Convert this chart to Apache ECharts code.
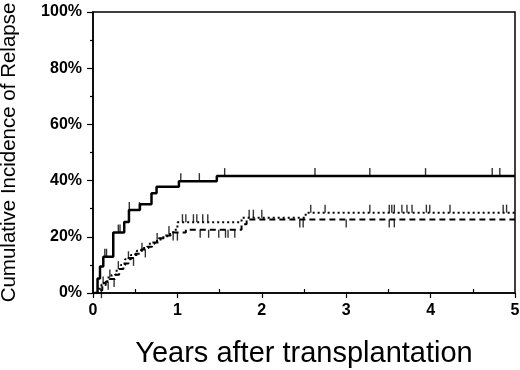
<!DOCTYPE html>
<html>
<head>
<meta charset="utf-8">
<script src="https://cdn.jsdelivr.net/npm/echarts@6/dist/echarts.min.js"></script>
<style>
html, body { margin: 0; padding: 0; background: #fff; }
#main { width: 520px; height: 370px; }
</style>
</head>
<body>
<div id="main"></div>
<script>
// step curves: at time t the cumulative incidence becomes p (%)
var solidT = [0, 0.054, 0.083, 0.122, 0.24, 0.37, 0.426, 0.556, 0.693, 0.753, 1.018, 1.467, 5];
var solidP = [0, 5.2, 9.4, 12.9, 21.5, 25.3, 29.5, 31.6, 35.5, 37.8, 39.8, 41.6, 41.6];

var dotT = [0, 0.07, 0.1, 0.13, 0.17, 0.22, 0.28, 0.33, 0.38, 0.45, 0.52, 0.6, 0.66, 0.73, 0.8, 0.88, 0.95, 1.0, 1.76, 2.52, 5];
var dotP = [0, 1.5, 3, 4, 5.5, 6.5, 8.5, 10, 12, 13.5, 15, 16, 17.5, 18.5, 19.8, 21, 22.5, 25.2, 26.8, 28.6, 28.6];

var dashT = [0, 0.08, 0.11, 0.15, 0.2, 0.26, 0.31, 0.36, 0.42, 0.5, 0.57, 0.64, 0.7, 0.78, 0.86, 0.92, 1.1, 1.76, 1.82, 5];
var dashP = [0, 1, 2.5, 4, 5, 6.5, 8.5, 10.5, 12.5, 14, 15.5, 16.5, 18, 19.5, 20.5, 21.5, 22.5, 24.5, 26.2, 26.2];

// censoring times
var solidCens = [0.14, 0.16, 0.30, 0.32, 0.43, 0.55, 1.04, 1.26, 1.56, 2.63, 3.28, 3.94, 4.73, 4.82];
var dotCens = [0.12, 0.2, 0.3, 0.42, 0.58, 0.76, 0.9, 1.06, 1.1, 1.19, 1.23, 1.3, 1.36, 1.85, 1.9, 2.0,
               2.58, 2.75, 3.28, 3.51, 3.54, 3.57, 3.66, 3.72, 3.78, 3.95, 3.99, 4.23, 4.86, 4.9];
var dashCens = [0.1, 0.18, 0.25, 0.48, 0.62, 0.95, 1.0, 1.27, 1.37, 1.49, 1.57, 1.6, 1.68, 2.45, 2.49, 3.0, 3.51, 3.57];

var yTicks = [0, 20, 40, 60, 80, 100];

function pairs(t, p) {
    return t.map(function (v, i) { return [v, p[i]]; });
}
// value of a step curve at time x
function stepAt(t, p, x) {
    var v = p[0];
    for (var i = 0; i < t.length; i++) {
        if (t[i] <= x) v = p[i];
    }
    return v;
}
function cens(list, t, p) {
    return list.map(function (x) { return [x, stepAt(t, p, x)]; });
}

var font = 'Liberation Sans, Arial, Helvetica, sans-serif';
var myChart = echarts.init(document.getElementById('main'));

function line(data, type, width) {
    return {
        type: 'line',
        step: 'end',
        data: data,
        symbol: 'none',
        lineStyle: { color: '#000', width: width, type: type }
    };
}
function ticks(data, up) {
    return {
        type: 'scatter',
        data: data,
        symbol: 'rect',
        symbolSize: [1.4, 8],
        symbolOffset: [0, up ? -4 : 4],
        itemStyle: { color: '#000' }
    };
}

var option = {
    backgroundColor: '#fff',
    animation: false,
    grid: {
        left: 93, right: 5, top: 12, bottom: 77,
        outerBoundsMode: 'none',
        containLabel: false,
        show: true, borderColor: '#000', borderWidth: 1.5
    },
    xAxis: {
        type: 'value',
        min: 0, max: 5, interval: 1,
        name: 'Years after transplantation',
        nameLocation: 'middle',
        nameGap: 46,
        nameTextStyle: { color: '#000', fontSize: 29, fontFamily: font },
        splitLine: { show: false },
        axisLine: { lineStyle: { color: '#000', width: 1.5 } },
        axisTick: { length: 5, lineStyle: { color: '#000', width: 1.2 } },
        minorTick: { show: true, splitNumber: 2, length: -4, lineStyle: { color: '#000', width: 1.2 } },
        axisLabel: { color: '#000', fontSize: 16, fontWeight: 'bold', fontFamily: font, margin: 10 }
    },
    yAxis: {
        type: 'value',
        min: 0, max: 100, interval: 20,
        name: 'Cumulative Incidence of Relapse',
        nameLocation: 'middle',
        nameGap: 73,
        nameTextStyle: { color: '#000', fontSize: 20.5, fontFamily: font },
        splitLine: { show: false },
        axisLine: { show: true, lineStyle: { color: '#000', width: 1.5 } },
        axisTick: { show: true, length: 6, lineStyle: { color: '#000', width: 1.2 } },
        minorTick: { show: true, splitNumber: 2, length: 3, lineStyle: { color: '#000', width: 1.2 } },
        axisLabel: {
            color: '#000', fontSize: 16, fontWeight: 'bold', fontFamily: font, margin: 11,
            formatter: function (v) { return yTicks.indexOf(v) >= 0 ? v + '%' : ''; }
        }
    },
    series: [
        line(pairs(solidT, solidP), 'solid', 2.5),
        line(pairs(dotT, dotP), [2, 3], 2),
        line(pairs(dashT, dashP), [6, 4], 2),
        ticks(cens(solidCens, solidT, solidP), true),
        ticks(cens(dotCens, dotT, dotP), true),
        ticks(cens(dashCens, dashT, dashP), false)
    ]
};
myChart.setOption(option);
</script>
</body>
</html>
